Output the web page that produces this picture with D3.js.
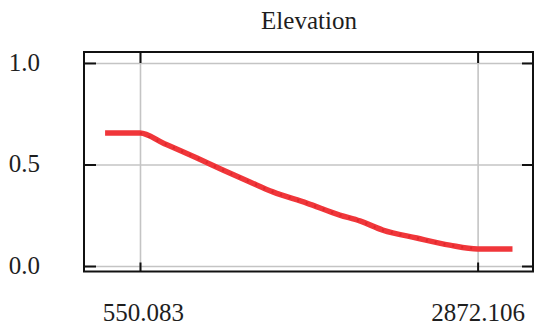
<!DOCTYPE html>
<html>
<head>
<meta charset="utf-8">
<script src="https://cdn.jsdelivr.net/npm/d3@7"></script>
<style>
  html, body { margin: 0; padding: 0; background: #fff; }
  svg { display: block; }
</style>
</head>
<body>
<svg id="chart" width="534" height="327" font-family="Liberation Serif"></svg>
<script>
// Partial response of the model against elevation
const title = "Elevation";
const elevation = [310, 550.083, 708, 942, 1120, 1306, 1464, 1697, 1924, 2062, 2220, 2453, 2680, 2872.106, 3112];
const response  = [0.655, 0.655, 0.606, 0.532, 0.473, 0.414, 0.365, 0.310, 0.251, 0.222, 0.177, 0.138, 0.103, 0.084, 0.084];
const xTicks = [550.083, 2872.106];
const xTickLabels = ["550.083", "2872.106"];
const yTicks = [0.0, 0.5, 1.0];
const yTickLabels = ["0.0", "0.5", "1.0"];

const fontName = '"Liberation Serif"';
const svg = d3.select("#chart");
const frame = { left: 84, right: 533, top: 52, bottom: 271.5 };

const x = d3.scaleLinear().domain([165, 3253]).range([frame.left, frame.right]);
const y = d3.scaleLinear().domain([-0.027, 1.054]).range([frame.bottom, frame.top]);

// title
svg.append("text")
  .attr("x", 309).attr("y", 29)
  .attr("text-anchor", "middle")
  .attr("fill", "#1e1e1e")
  .style("font-family", fontName)
  .style("font-size", "25px")
  .text(title);

// light grid at the tick positions
svg.append("g")
  .attr("transform", `translate(0,${frame.bottom})`)
  .call(d3.axisBottom(x).tickValues(xTicks).tickSize(-(frame.bottom - frame.top)).tickFormat(""))
  .call(g => g.select(".domain").remove())
  .call(g => g.selectAll("line").attr("stroke", "#c4c4c4").attr("stroke-width", 1.6));
svg.append("g")
  .attr("transform", `translate(${frame.left},0)`)
  .call(d3.axisLeft(y).tickValues(yTicks).tickSize(-(frame.right - frame.left)).tickFormat(""))
  .call(g => g.select(".domain").remove())
  .call(g => g.selectAll("line").attr("stroke", "#c4c4c4").attr("stroke-width", 1.6));

// response curve
const pts = elevation.map((e, i) => ({ e, r: response[i] }));
const curve = d3.line()
  .x(d => x(d.e))
  .y(d => y(d.r))
  .curve(d3.curveMonotoneX);
svg.append("path")
  .attr("d", curve(pts))
  .attr("fill", "none")
  .attr("stroke", "#f0363a")
  .attr("stroke-width", 5.5)
  .attr("stroke-linejoin", "round");
// darker flecks along the sloping part of the stroke
svg.append("path")
  .attr("d", curve(pts.slice(1, 14)))
  .attr("fill", "none")
  .attr("stroke", "#c8141a")
  .attr("stroke-opacity", 0.4)
  .attr("stroke-width", 2.5)
  .attr("stroke-dasharray", "2 7");

// frame
svg.append("rect")
  .attr("x", frame.left).attr("y", frame.top)
  .attr("width", frame.right - frame.left).attr("height", frame.bottom - frame.top)
  .attr("fill", "none").attr("stroke", "#111").attr("stroke-width", 2);

// inward tick marks on all four sides
const tickStyle = g => {
  g.select(".domain").remove();
  g.selectAll("line").attr("stroke", "#111").attr("stroke-width", 2);
};
svg.append("g").attr("transform", `translate(0,${frame.bottom})`)
  .call(d3.axisBottom(x).tickValues(xTicks).tickSize(-9).tickFormat("")).call(tickStyle);
svg.append("g").attr("transform", `translate(0,${frame.top})`)
  .call(d3.axisTop(x).tickValues(xTicks).tickSize(-11).tickFormat("")).call(tickStyle);
svg.append("g").attr("transform", `translate(${frame.left},0)`)
  .call(d3.axisLeft(y).tickValues(yTicks).tickSize(-12).tickFormat("")).call(tickStyle);
svg.append("g").attr("transform", `translate(${frame.right},0)`)
  .call(d3.axisRight(y).tickValues(yTicks).tickSize(-11).tickFormat("")).call(tickStyle);

// tick labels
svg.append("g")
  .attr("transform", `translate(${frame.left},0)`)
  .call(d3.axisLeft(y).tickValues(yTicks).tickSize(0).tickPadding(44)
        .tickFormat((d, i) => yTickLabels[i]))
  .attr("font-family", null)
  .call(g => g.select(".domain").remove())
  .call(g => g.selectAll("text").style("font-size", "25px").style("font-family", fontName)
        .attr("fill", "#1e1e1e").attr("dy", "0.3em"));
svg.append("g")
  .attr("transform", `translate(0,${frame.bottom})`)
  .call(d3.axisBottom(x).tickValues(xTicks).tickSize(0).tickPadding(32)
        .tickFormat((d, i) => xTickLabels[i]))
  .attr("font-family", null)
  .call(g => g.select(".domain").remove())
  .call(g => g.selectAll("text").style("font-size", "25px").style("font-family", fontName)
        .attr("fill", "#1e1e1e").attr("dx", (d, i) => i === 0 ? 3 : 0));
</script>
</body>
</html>
